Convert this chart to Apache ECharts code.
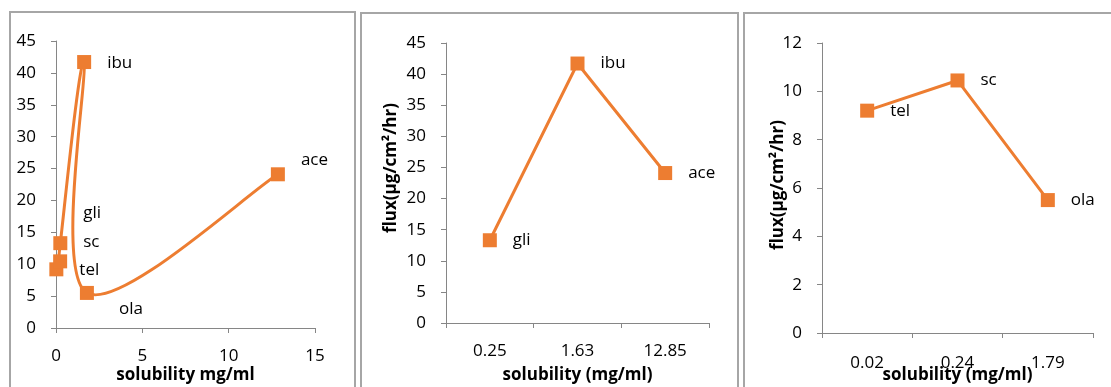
<!DOCTYPE html>
<html>
<head>
<meta charset="utf-8">
<script src="https://cdn.jsdelivr.net/npm/echarts@6/dist/echarts.min.js"></script>
<style>
  html, body { margin: 0; padding: 0; background: #fff; }
  #chart { width: 1111px; height: 387px; }
</style>
</head>
<body>
<div id="chart"></div>
<script>
// All drugs: solubility (mg/ml) against flux (µg/cm²/hr)
const drugs = ['tel', 'sc', 'gli', 'ibu', 'ola', 'ace'];
const solubility = [0.02, 0.24, 0.25, 1.63, 1.79, 12.85];
const flux = [9.2, 10.45, 13.3, 41.7, 5.5, 24.1];

// Group A drugs
const groupADrugs = ['gli', 'ibu', 'ace'];
const groupASolubility = ['0.25', '1.63', '12.85'];
const groupAFlux = [13.3, 41.7, 24.1];

// Group B drugs
const groupBDrugs = ['tel', 'sc', 'ola'];
const groupBSolubility = ['0.02', '0.24', '1.79'];
const groupBFlux = [9.2, 10.45, 5.5];

// Styling
const ORANGE = '#ED7D31';
const AXIS = '#868686';
const TEXT = '#000';
const FONT = '"Open Sans", sans-serif';
const FS = 17;
const FLUX_TITLE = 'flux(µg/cm²/hr)';

// label nudges (px) so crowded labels in the first panel stay readable
const labelNudge = { tel: [0, 1], sc: [0, -19], gli: [0, -30], ibu: [0, 1], ola: [9, 16], ace: [0, -14] };

function axisCommon(labelMargin) {
  return {
    nameMoveOverlap: false,
    axisLine: { show: true, onZero: false, lineStyle: { color: AXIS, width: 1 } },
    axisTick: { show: true, length: 5, lineStyle: { color: AXIS } },
    splitLine: { show: false },
    axisLabel: { color: TEXT, fontFamily: FONT, fontSize: FS, margin: labelMargin || 20 }
  };
}
function nameStyle(extra) {
  return Object.assign({ color: TEXT, fontFamily: FONT, fontSize: FS, fontWeight: 'bold' }, extra || {});
}
function pointLabel(text, nudge) {
  return {
    show: true, position: 'right', distance: 16, offset: nudge || [0, 0],
    color: TEXT, fontFamily: FONT, fontSize: FS, formatter: text
  };
}

// Smoothed connector (Catmull-Rom style cubic segments) through the
// points in data order, one segment per data item.
function smoothSegment(params, api) {
  const i = params.dataIndex;
  const n = solubility.length;
  if (i >= n - 1) return { type: 'group', children: [] };
  const at = j => {
    const k = Math.max(0, Math.min(n - 1, j));
    return api.coord([solubility[k], flux[k]]);
  };
  const p0 = at(i - 1), p1 = at(i), p2 = at(i + 1), p3 = at(i + 2);
  return {
    type: 'bezierCurve',
    shape: {
      x1: p1[0], y1: p1[1], x2: p2[0], y2: p2[1],
      cpx1: p1[0] + (p2[0] - p0[0]) / 6, cpy1: p1[1] + (p2[1] - p0[1]) / 6,
      cpx2: p2[0] - (p3[0] - p1[0]) / 6, cpy2: p2[1] - (p3[1] - p1[1]) / 6
    },
    style: { stroke: ORANGE, lineWidth: 3, fill: 'none', lineCap: 'round' }
  };
}

const chart = echarts.init(document.getElementById('chart'), null, { renderer: 'canvas' });

const option = {
  animation: false,
  backgroundColor: '#fff',
  graphic: [
    { type: 'rect', silent: true, shape: { x: 10, y: 12, width: 345, height: 400 },
      style: { fill: 'none', stroke: '#a6a6a6', lineWidth: 2 } },
    { type: 'rect', silent: true, shape: { x: 361, y: 13, width: 377, height: 400 },
      style: { fill: 'none', stroke: '#a6a6a6', lineWidth: 2 } },
    { type: 'rect', silent: true, shape: { x: 744, y: 13, width: 400, height: 400 },
      style: { fill: 'none', stroke: '#a6a6a6', lineWidth: 2 } }
  ],
  grid: [
    { left: 56, right: 796, top: 41, bottom: 59, outerBoundsMode: 'none', containLabel: false },
    { left: 446, right: 402, top: 43, bottom: 64, outerBoundsMode: 'none', containLabel: false },
    { left: 822, right: 18, top: 43, bottom: 54, outerBoundsMode: 'none', containLabel: false }
  ],
  xAxis: [
    Object.assign(axisCommon(), {
      gridIndex: 0, type: 'value', min: 0, max: 15, interval: 5,
      name: 'solubility mg/ml', nameLocation: 'middle', nameGap: 39,
      nameTextStyle: nameStyle()
    }),
    Object.assign(axisCommon(), {
      gridIndex: 1, type: 'category', data: groupASolubility, boundaryGap: true,
      name: 'solubility (mg/ml)', nameLocation: 'middle', nameGap: 44,
      nameTextStyle: nameStyle()
    }),
    Object.assign(axisCommon(22), {
      gridIndex: 2, type: 'category', data: groupBSolubility, boundaryGap: true,
      name: 'solubility (mg/ml)', nameLocation: 'middle', nameGap: 34,
      nameTextStyle: nameStyle()
    })
  ],
  yAxis: [
    Object.assign(axisCommon(), { gridIndex: 0, type: 'value', min: 0, max: 45, interval: 5 }),
    Object.assign(axisCommon(), {
      gridIndex: 1, type: 'value', min: 0, max: 45, interval: 5,
      name: FLUX_TITLE, nameLocation: 'middle', nameGap: 46,
      nameTextStyle: nameStyle({ padding: [0, 0, 0, 30] })
    }),
    Object.assign(axisCommon(), {
      gridIndex: 2, type: 'value', min: 0, max: 12, interval: 2,
      name: FLUX_TITLE, nameLocation: 'middle', nameGap: 35,
      nameTextStyle: nameStyle({ padding: [0, 0, 0, 6] })
    })
  ],
  series: [
    {
      type: 'custom', xAxisIndex: 0, yAxisIndex: 0, silent: true,
      renderItem: smoothSegment,
      data: drugs.map((d, i) => [solubility[i], flux[i]])
    },
    {
      type: 'scatter', xAxisIndex: 0, yAxisIndex: 0,
      symbol: 'rect', symbolSize: 14,
      itemStyle: { color: ORANGE, opacity: 1 },
      data: drugs.map((d, i) => ({
        value: [solubility[i], flux[i]],
        label: pointLabel(d, labelNudge[d])
      }))
    },
    {
      type: 'line', xAxisIndex: 1, yAxisIndex: 1,
      symbol: 'rect', symbolSize: 14,
      lineStyle: { color: ORANGE, width: 3 },
      itemStyle: { color: ORANGE },
      data: groupAFlux.map((v, i) => ({ value: v, label: pointLabel(groupADrugs[i]) }))
    },
    {
      type: 'line', xAxisIndex: 2, yAxisIndex: 2,
      symbol: 'rect', symbolSize: 14,
      lineStyle: { color: ORANGE, width: 3 },
      itemStyle: { color: ORANGE },
      data: groupBFlux.map((v, i) => ({ value: v, label: pointLabel(groupBDrugs[i]) }))
    }
  ]
};

chart.setOption(option);
</script>
</body>
</html>
